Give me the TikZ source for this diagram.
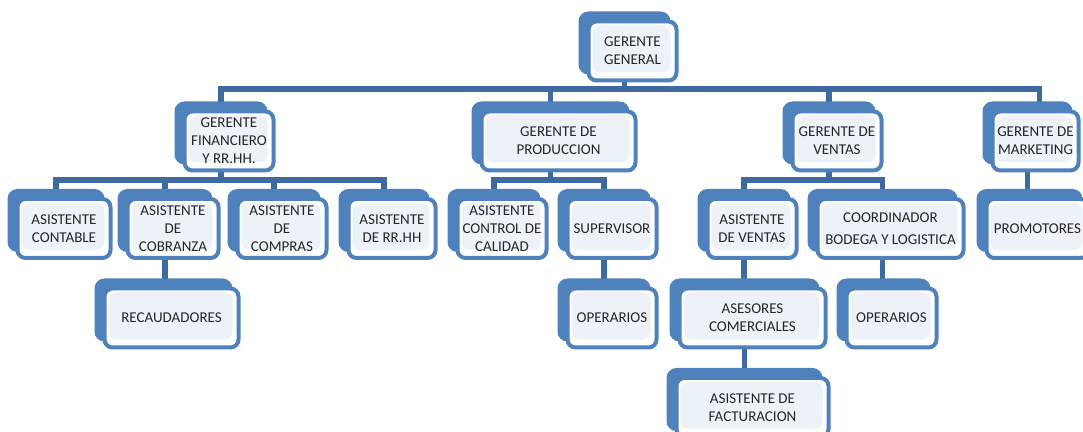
\documentclass[tikz,border=0pt]{standalone}
\usepackage{fontspec}
\setmainfont{Carlito}
\usetikzlibrary{shadows,backgrounds}
\definecolor{boxblue}{RGB}{79,129,189}
\definecolor{linkblue}{RGB}{62,106,160}
\definecolor{boxfill}{RGB}{237,241,248}
\definecolor{inktext}{RGB}{38,38,38}
\tikzset{
  unit/.style={draw=boxblue,line width=2pt,rounded corners=4pt,fill=white,
               minimum height=29.5pt,align=center,inner sep=1pt,text=inktext,
               font=\fontsize{7.5}{9}\selectfont,
               copy shadow={fill=boxblue,draw=boxblue,shadow xshift=-4pt,shadow yshift=4pt},
               path picture={\fill[boxfill] ([shift={(2pt,-2pt)}]path picture bounding box.north west)
                 rectangle ([shift={(-3pt,4pt)}]path picture bounding box.south east);}},
  conn/.style={draw=linkblue,line width=2.6pt},
}

\begin{document}
\begin{tikzpicture}[x=0.5pt,y=-0.5pt]
  \clip (0,0) rectangle (1083,432);

  \node[unit,minimum width=44pt]   (gg)       at (632.5,51)  {GERENTE\\GENERAL};

  \node[unit,minimum width=44.5pt] (fin)      at (229,141)   {GERENTE\\FINANCIERO\\Y RR.HH.};
  \node[unit,minimum width=77pt]   (prod)     at (558.5,141) {GERENTE DE\\PRODUCCION};
  \node[unit,minimum width=44.5pt] (ven)      at (837,141)   {GERENTE DE\\VENTAS};
  \node[unit,minimum width=43pt]   (mkt)      at (1035.5,141){GERENTE DE\\MARKETING};

  \node[unit,minimum width=46.5pt] (contable) at (64,228.5)  {ASISTENTE\\CONTABLE};
  \node[unit,minimum width=45.5pt] (cobranza) at (173,228.5) {ASISTENTE\\DE\\COBRANZA};
  \node[unit,minimum width=44.5pt] (compras)  at (282,228.5) {ASISTENTE\\DE\\COMPRAS};
  \node[unit,minimum width=43.5pt] (rrhh)     at (392,228.5) {ASISTENTE\\DE RR.HH};
  \node[unit,minimum width=44.5pt] (calidad)  at (502,228.5) {ASISTENTE\\CONTROL DE\\CALIDAD};
  \node[unit,minimum width=44.5pt] (superv)   at (612,228.5) {SUPERVISOR};
  \node[unit,minimum width=44.5pt] (asventas) at (752,228.5) {ASISTENTE\\DE VENTAS};
  \node[unit,minimum width=73pt,font=\fontsize{7.5}{11}\selectfont]
                                   (coord)    at (890.5,228.5) {COORDINADOR\\BODEGA Y LOGISTICA};
  \node[unit,minimum width=51pt]   (promo)    at (1037.5,228.5) {PROMOTORES};

  \node[unit,minimum width=67pt]   (recaud)   at (171.5,318) {RECAUDADORES};
  \node[unit,minimum width=44.5pt] (operprod) at (612,318)   {OPERARIOS};
  \node[unit,minimum width=73pt]   (asesores) at (752.5,318) {ASESORES\\COMERCIALES};
  \node[unit,minimum width=45pt]   (operven)  at (891.5,318) {OPERARIOS};

  \node[unit,minimum width=76pt]   (factur)   at (752.5,407.5) {ASISTENTE DE\\FACTURACION};

  \coordinate (topbus)  at (0,89);
  \coordinate (subbus)  at (0,180);

  \begin{scope}[on background layer]
  \begin{scope}[transform canvas={xshift=-4pt}]
    \draw[conn] (gg.south) -- (gg.south |- topbus);
    \draw[conn] (fin.north) |- ([xshift=6pt]mkt.north |- topbus) -- ([xshift=6pt]mkt.north);
    \draw[conn] (prod.north) -- (prod.north |- topbus);
    \draw[conn] (ven.north) -- (ven.north |- topbus);

    \draw[conn] (fin.south) -- (fin.south |- subbus);
    \draw[conn] (contable.north) |- (rrhh.north |- subbus) -- (rrhh.north);
    \draw[conn] (cobranza.north) -- (cobranza.north |- subbus);
    \draw[conn] (compras.north) -- (compras.north |- subbus);

    \draw[conn] (prod.south) -- (prod.south |- subbus);
    \draw[conn] (calidad.north) |- (superv.north |- subbus) -- (superv.north);

    \draw[conn] (ven.south) -- (ven.south |- subbus);
    \draw[conn] (asventas.north) |- (coord.north |- subbus) -- (coord.north);

    \draw[conn] (mkt.south) -- (promo.north -| mkt.south);

    \draw[conn] (cobranza.south) -- (cobranza.south |- recaud.north);
    \draw[conn] (superv.south) -- (operprod.north);
    \draw[conn] (asventas.south) -- (asventas.south |- asesores.north);
    \draw[conn] (coord.south) -- (coord.south |- operven.north);
    \draw[conn] (asesores.south) -- (factur.north);
  \end{scope}
  \end{scope}
\end{tikzpicture}
\end{document}
